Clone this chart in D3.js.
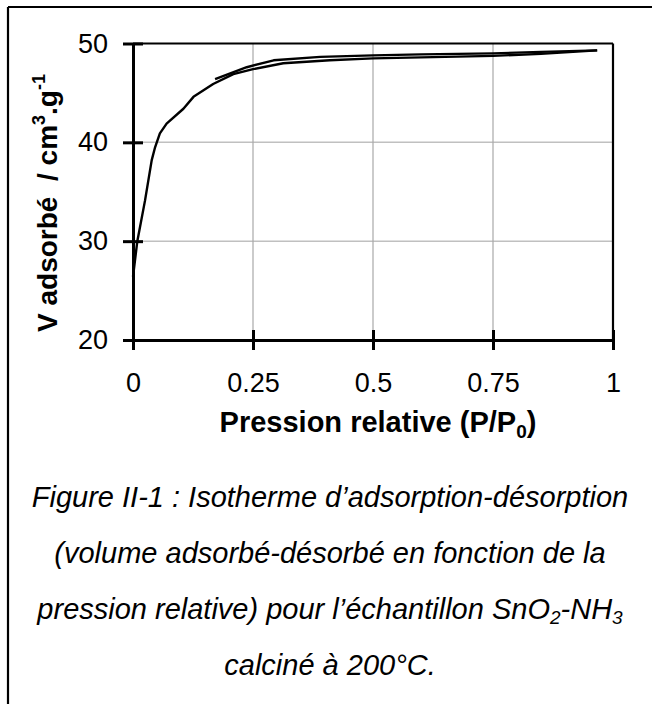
<!DOCTYPE html>
<html>
<head>
<meta charset="utf-8">
<script src="https://cdn.jsdelivr.net/npm/d3@7"></script>
<style>
  html, body { margin: 0; padding: 0; background: #fff; }
  svg { display: block; font-family: Arial, "Liberation Sans", sans-serif; }
</style>
</head>
<body>
<svg id="chart" width="652" height="704"></svg>
<script>
// ---- data ----
const adsorptionP = [0, 0.009, 0.025, 0.039, 0.046, 0.056, 0.07, 0.105, 0.126, 0.167, 0.209, 0.25, 0.313, 0.41, 0.5, 0.6, 0.75, 0.85, 0.967];
const adsorptionV = [26.4, 30.0, 34.1, 38.2, 39.5, 40.9, 41.9, 43.4, 44.6, 45.9, 46.9, 47.4, 48.0, 48.3, 48.5, 48.6, 48.75, 48.95, 49.3];
const desorptionP = [0.967, 0.85, 0.75, 0.6, 0.5, 0.39, 0.293, 0.237, 0.171];
const desorptionV = [49.3, 49.15, 49.0, 48.9, 48.8, 48.65, 48.3, 47.6, 46.4];
const xTicks = [0, 0.25, 0.5, 0.75, 1];
const xTickLabels = ["0", "0.25", "0.5", "0.75", "1"];
const yTicks = [20, 30, 40, 50];
const captionLines = [
  "Figure II-1 : Isotherme d\u2019adsorption-d\u00e9sorption",
  "(volume adsorb\u00e9-d\u00e9sorb\u00e9 en fonction de la",
  null,
  "calcin\u00e9 \u00e0 200\u00b0C."
];

// ---- layout ----
const svg = d3.select("#chart");
const plot = { left: 133, right: 613, top: 43.5, bottom: 340 };
const x = d3.scaleLinear().domain([0, 1]).range([plot.left, plot.right]);
const y = d3.scaleLinear().domain([20, 50]).range([plot.bottom, plot.top]);

// outer frame (only top and left visible)
svg.append("line").attr("x1", 8).attr("x2", 652).attr("y1", 7).attr("y2", 7)
  .attr("stroke", "#000").attr("stroke-width", 2.2);
svg.append("line").attr("x1", 8).attr("x2", 8).attr("y1", 7).attr("y2", 704)
  .attr("stroke", "#000").attr("stroke-width", 2.2);

// gridlines
svg.append("g").selectAll("line").data(yTicks.filter(d => d > 20 && d < 50)).join("line")
  .attr("x1", plot.left).attr("x2", plot.right)
  .attr("y1", d => y(d)).attr("y2", d => y(d))
  .attr("stroke", "#c0c0c0").attr("stroke-width", 1.5);
svg.append("g").selectAll("line").data(xTicks.filter(d => d > 0 && d < 1)).join("line")
  .attr("x1", d => x(d)).attr("x2", d => x(d))
  .attr("y1", plot.top).attr("y2", plot.bottom)
  .attr("stroke", "#a8a8a8").attr("stroke-width", 1.2);

// top and right border
svg.append("line").attr("x1", plot.left).attr("x2", plot.right).attr("y1", plot.top).attr("y2", plot.top)
  .attr("stroke", "#000").attr("stroke-width", 2.2);
svg.append("line").attr("x1", plot.right).attr("x2", plot.right).attr("y1", plot.top).attr("y2", plot.bottom)
  .attr("stroke", "#000").attr("stroke-width", 2.2);

// axes
const yAxis = d3.axisLeft(y).tickValues(yTicks).tickSize(0).tickPadding(25).tickFormat(d3.format("d"));
const gy = svg.append("g").attr("transform", `translate(${plot.left},0)`).call(yAxis);
gy.select(".domain").attr("stroke", "#000").attr("stroke-width", 3);
gy.selectAll(".tick text").attr("font-size", 27).attr("fill", "#000")
  .attr("font-family", "Arial, 'Liberation Sans', sans-serif");
gy.selectAll(".tick").append("line").attr("x1", -10).attr("x2", 10)
  .attr("stroke", "#000").attr("stroke-width", 3);

const xAxis = d3.axisBottom(x).tickValues(xTicks).tickSize(0).tickPadding(33)
  .tickFormat((d, i) => xTickLabels[i]);
const gx = svg.append("g").attr("transform", `translate(0,${plot.bottom})`).call(xAxis);
gx.select(".domain").attr("stroke", "#000").attr("stroke-width", 3);
gx.selectAll(".tick text").attr("font-size", 27).attr("fill", "#000")
  .attr("font-family", "Arial, 'Liberation Sans', sans-serif");
gx.selectAll(".tick").append("line").attr("y1", -10).attr("y2", 10)
  .attr("stroke", "#000").attr("stroke-width", 3);

// curves
const line = d3.line().x(d => x(d[0])).y(d => y(d[1]));
const ads = adsorptionP.map((p, i) => [p, adsorptionV[i]]);
const des = desorptionP.map((p, i) => [p, desorptionV[i]]);
svg.append("path").datum(ads).attr("d", line).attr("fill", "none")
  .attr("stroke", "#000").attr("stroke-width", 2.4).attr("stroke-linejoin", "round");
svg.append("path").datum(des).attr("d", line).attr("fill", "none")
  .attr("stroke", "#000").attr("stroke-width", 2.4).attr("stroke-linejoin", "round");

// axis titles
const xt = svg.append("text").attr("x", 378).attr("y", 432).attr("text-anchor", "middle")
  .attr("font-size", 29).attr("font-weight", "bold");
xt.append("tspan").text("Pression relative (P/P");
xt.append("tspan").text("0").attr("font-size", 19).attr("dy", 6);
xt.append("tspan").text(")").attr("dy", -6);

const yt = svg.append("text").attr("transform", "translate(57,203) rotate(-90)")
  .attr("text-anchor", "middle").attr("font-size", 28).attr("font-weight", "bold")
  .style("white-space", "pre");
yt.append("tspan").text("V adsorb\u00e9  / cm");
yt.append("tspan").text("3").attr("font-size", 18).attr("dy", -12);
yt.append("tspan").text(".g").attr("dy", 12);
yt.append("tspan").text("-1").attr("font-size", 18).attr("dy", -12);

// caption
const capY = [507, 563, 619, 675];
const cap = svg.append("g").attr("font-size", 29).attr("font-style", "italic").attr("text-anchor", "middle");
captionLines.forEach((t, i) => {
  if (t) cap.append("text").attr("x", 330).attr("y", capY[i]).text(t);
});
const c3 = cap.append("text").attr("x", 330).attr("y", capY[2]);
c3.append("tspan").text("pression relative) pour l\u2019\u00e9chantillon SnO");
c3.append("tspan").text("2").attr("font-size", 19).attr("dy", 5);
c3.append("tspan").text("-NH").attr("dy", -5);
c3.append("tspan").text("3").attr("font-size", 19).attr("dy", 5);
</script>
</body>
</html>
